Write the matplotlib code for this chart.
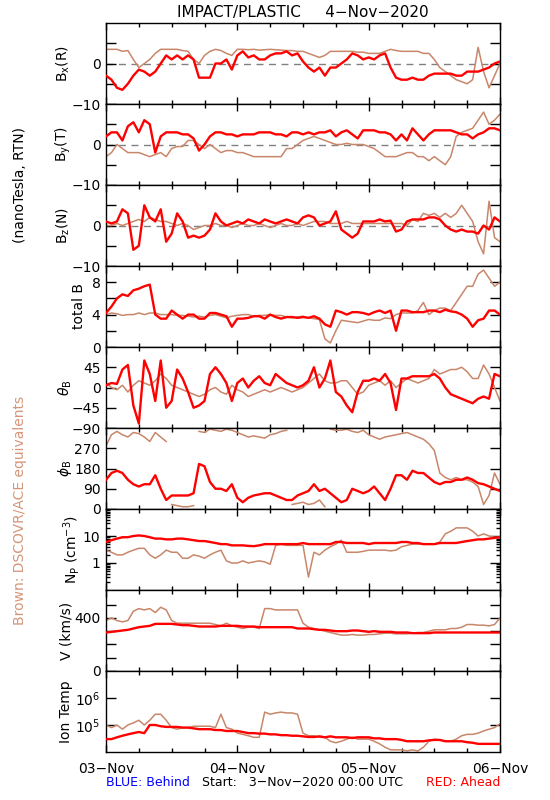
import matplotlib
matplotlib.use("Agg")
import matplotlib.pyplot as plt
import numpy as np

plt.rcParams['font.family'] = ['DejaVu Sans']
plt.rcParams['axes.unicode_minus'] = True

RED = '#ff0000'
BROWN = '#c8866a'

# hourly samples, hours after 3-Nov-2020 00:00 UTC
hours = np.arange(73)

# --- magnetic field, nT (RTN) ---
bx_red = [-3, -4, -6, -6.5, -5, -3, -1.5, -2, -3, -2, 0, 2,
          1, 2, 1, 2, 1, -3.5, -3.5, -3.5, 0, 0, 1, -1.5,
          2, 3, 1.5, 2, 1, 1, 2, 2.5, 2.5, 3, 2, 2.5,
          0.5, -1, -2, -1, -3, -1, -1, 0, 1, 2.5, 2, 1,
          1.5, 1, 2, 2.5, -1, -3.5, -4, -4, -3.5, -4, -4, -3,
          -2.5, -2.5, -2.5, -2.5, -3, -3, -2, -2, -2, -1.5, -1, 0, 0.5]
bx_brown = [3.5, 3.5, 3.5, 3, 3.2, 1, -1, 0, 1, 2.5, 3.5, 3.5,
            3.5, 3.5, 3.2, 3, 1, 0, 2, 3, 3.5, 3.2, 2.5, 2,
            3.5, 3.5, 3.4, 3.5, 3.3, 3.4, 3.5, 3.4, 3.3, 3.2, 3.2, 3,
            3, 2.5, 2, 1.5, 2, 3, 3, 3, 3, 3, 2.8, 2.8,
            2.5, 2.5, 2.5, 3, 3.5, 3.2, 3, 3, 3, 3, 2.5, 2.5,
            1, -1, -2, -3, -4, -4.5, -5, -4, 4, -2, -6, -3, 0]

by_red = [2, 3, 3, 1, 4.5, 5.5, 3, 6, 5, -2, 2, 3,
          3, 3, 2.5, 2.5, 1.5, -1.5, 0, 2, 3, 3, 2.5, 2.5,
          2, 2.5, 2.5, 2.5, 3, 3, 3, 2.5, 2.5, 2, 3, 3,
          2.5, 3, 2.5, 3, 3, 3.5, 2, 3, 3.5, 2.5, 1.5, 3.5,
          3.5, 3.5, 3, 3, 2.5, 1, 2.5, 1, 4, 2.5, 1, 2.5,
          3.5, 3.5, 3.5, 3.5, 3, 2.5, 2.5, 1.5, 2.5, 3, 4, 4, 3.5]
by_brown = [-3, -2, 0, -1, -2, -2, -2, -2.5, -3, -2.5, -2, -3,
            -1, -0.5, -0.5, 1, 1, 0, -1, 0, -1, -2, -1.5, -1.5,
            -2, -2, -2.5, -3, -3, -3, -3, -3, -3, -1, -1, 0,
            1, 1.5, 2, 1.5, 1, 0.5, 0, 0, 0.3, 0, 0, 0,
            -0.5, -1, -2, -3, -3, -3, -2.5, -2, -2, -3, -3, -4,
            -3, -4, -5, -3, 2, 3, 3.5, 4, 6, 8, 5, 6, 7.5]

bz_red = [1, 0.5, 1, 4, 3, -6, -5, 5, 2, 1, 4, -4,
          -2, 3, 1, -3, -2.5, -3, -2.5, -1, 3, 1, 0, 0.5,
          1, 0.5, 1.5, 1, 0.5, 1.5, 1, 0.5, 1, 1.5, 1, 0.5,
          2, 2.5, 2, 0, 0.5, 1, 3.5, -1, -2, -3, -2, 1,
          1, 1, 1.5, 1, 1.2, -1.5, -1, 1, 1.5, 1.5, 1.5, 2,
          2, 1.5, 0, -1, -1.5, -1, -1.5, -1.5, -2, 0, -1, 2, 1]
bz_brown = [0, 0, 0.5, 0, 0.5, 1, 1.5, 1, 2, 1.5, 1, 1,
            0.5, 0, 0.5, 0, -1, -0.5, 0, 0, 0.5, 0, 0, -0.5,
            0, 0.5, 0, 0, 0.5, 0, -0.5, 0, 0.5, 0, 0, 0.5,
            0, 0.5, 1, 1, 1, 0.5, 0.5, 0.5, 1, 0.5, 0.5, 0.5,
            0.5, 0.5, 0.5, 0.5, 0.5, 0.5, 0.5, 0, 1.5, 1, 3, 2.5,
            3, 2, 3, 2, 3, 5, 3, 1, -4, -7, 6, -3, -4]

bt_red = [4.2, 5, 6, 6.5, 6.3, 7, 7.2, 7.5, 7.7, 4, 3.5, 3.5,
          4.5, 4, 3.5, 4, 4, 3.5, 3.5, 4.2, 4.2, 4, 3.8, 2.5,
          3.5, 3.5, 3.6, 3.8, 3.8, 3.5, 4, 3.7, 3.5, 3.7, 3.7, 3.6,
          3.7, 3.6, 3.8, 3.5, 2.8, 2.5, 4.5, 4.3, 4, 4.3, 4.3, 4.2,
          4, 4.3, 4.5, 4.2, 4.5, 2, 4.5, 4.5, 4.3, 4.3, 4.3, 4.5,
          4.5, 4.3, 4.6, 4.4, 4.3, 4, 3.5, 2.5, 3.3, 3.5, 4.5, 4.5, 4]
bt_brown = [4, 4.2, 4.1, 3.9, 4, 4, 4.2, 4, 4.2, 4.2, 4, 4,
            4, 3.9, 3.9, 3.8, 3.7, 3.8, 3.7, 3.9, 4, 3.8, 3.6, 3.8,
            3.9, 4, 4, 3.8, 3.9, 3.9, 4, 3.9, 3.9, 3.7, 3.6, 3.7,
            3.8, 3.6, 3.5, 3.4, 1, 0.5, 2, 3.3, 3.2, 3.1, 3, 3.2,
            3.4, 3.3, 3.3, 3.6, 3.5, 4, 4.2, 4.2, 4.2, 4.5, 5.5, 4,
            4.5, 4.8, 4.8, 4.5, 5.5, 6.5, 7.5, 7.5, 9, 9.5, 8.5, 7.5, 8]

# --- field angles, degrees ---
theta_red = [5, 10, 8, 40, 50, -40, -80, 60, 30, -30, 60, -45,
             -30, 40, 20, -10, -45, -40, -30, 30, 45, 30, 10, -30,
             10, 20, 0, 15, 25, 10, 5, 30, 20, 10, 5, 0,
             5, 15, 45, 0, 20, 60, -10, -20, -40, -55, -10, 15,
             15, 20, 15, 30, 10, -50, 20, 20, 25, 25, 25, 25,
             30, 20, 0, -15, -20, -25, -30, -35, -25, -20, -25, 30, 25]
theta_brown = [10, 0, -5, 5, -10, 5, 15, 10, 5, 15, 30, 20,
               5, 0, -5, -10, -15, -20, -15, -5, 0, -10, -15, 5,
               -5, -10, -20, -15, -10, -5, -10, -5, 0, -5, -10, -5,
               0, 10, 20, 30, 15, 10, 10, 15, 15, 0, -15, -10,
               5, 10, 15, 5, 15, 0, 10, 20, 15, 10, 15, 20,
               40, 30, 35, 40, 40, 45, 35, 20, 20, 50, 30, 0, -30]

phi_red = [130, 160, 170, 160, 130, 110, 100, 110, 110, 150, 90, 40,
           60, 60, 60, 60, 70, 200, 190, 120, 90, 90, 80, 110,
           50, 30, 50, 60, 65, 70, 70, 60, 50, 40, 40, 60,
           70, 80, 110, 80, 90, 70, 50, 30, 40, 90, 80, 70,
           80, 100, 70, 40, 90, 150, 150, 130, 170, 160, 160, 140,
           120, 110, 120, 120, 130, 130, 140, 130, 115, 110, 100, 90, 80]
phi_brown = [280, 330, 345, 330, 320, 340, 335, 320, 300, 340, 320, 300,
             20, 15, 10, 10, 15, 345, 340, 355, 350, 345, 355, 350,
             340, 330, 320, 325, 320, 315, 330, 335, 345, 350, 20, 25,
             30, 20, 25, 40, 10, 355, 350, 350, 355, 345, 340, 350,
             330, 320, 310, 320, 325, 330, 335, 340, 330, 320, 310, 290,
             260, 160, 140, 130, 140, 130, 130, 120, 100, 20, 60, 160, 110]

# --- plasma ---
np_red = [6, 7, 8, 9, 9, 10, 10.5, 10, 9, 8, 8, 7.5,
          7.5, 8, 8, 7.5, 7, 6.5, 6.5, 6, 5.5, 5, 5, 4.5,
          4.5, 4.5, 4.3, 4.2, 4.5, 5, 5, 5, 5, 5, 5, 5,
          5.5, 5, 5, 5, 5, 5, 6, 6, 5.5, 5.5, 5.5, 5.5,
          5, 5.5, 5.5, 5.5, 5.5, 5.5, 6, 6, 5.5, 5.5, 5, 5,
          5, 5.5, 5.5, 5.5, 5.5, 6, 6.5, 7, 7.5, 7.5, 8, 8.5, 9]
np_brown = [3, 2.5, 2, 2, 2.5, 3, 3.5, 3.5, 2, 1.5, 2, 3,
            2.5, 2.5, 1.5, 1.5, 2, 1.8, 1.5, 2, 2.5, 3, 1.2, 1,
            1, 1.2, 1, 1.1, 1.2, 1.1, 0.9, 4.5, 5, 4.5, 4.5, 4.5,
            4.5, 0.3, 2.5, 2, 3, 4, 5, 7, 2.5, 2.5, 2.5, 2.7,
            3, 3, 3, 3, 2.8, 3, 4, 4.5, 5, 5, 5, 5,
            5, 6, 12, 15, 20, 20, 20, 15, 10, 12, 10, 9, 9]

v_red = [290, 295, 300, 305, 310, 320, 330, 335, 340, 355, 355, 355,
         355, 350, 345, 345, 340, 335, 335, 335, 335, 340, 340, 340,
         340, 335, 335, 335, 330, 330, 330, 330, 330, 330, 330, 320,
         320, 320, 315, 310, 310, 305, 300, 300, 300, 305, 305, 300,
         295, 300, 295, 295, 295, 290, 290, 290, 285, 285, 285, 285,
         290, 290, 290, 290, 290, 290, 290, 290, 290, 290, 290, 290, 290]
v_brown = [380, 400, 380, 370, 380, 450, 470, 460, 470, 440, 480, 460,
           380, 360, 360, 360, 360, 360, 360, 360, 350, 340, 360, 340,
           330, 320, 330, 330, 320, 470, 470, 460, 460, 460, 460, 460,
           360, 330, 320, 310, 300, 290, 280, 270, 270, 275, 270, 270,
           275, 275, 280, 285, 285, 280, 280, 280, 285, 290, 290, 300,
           310, 310, 310, 320, 320, 330, 350, 350, 345, 345, 340, 350, 400]

t_red = [3e4, 3e4, 3.5e4, 4e4, 4.5e4, 5e4, 5.5e4, 5e4, 1e5, 1e5, 9e4, 8.5e4,
         8.5e4, 8.5e4, 8e4, 8e4, 7.5e4, 7e4, 7e4, 7e4, 6.5e4, 6.5e4, 6e4, 6e4,
         6e4, 5.5e4, 5e4, 5e4, 4.8e4, 4.8e4, 4.5e4, 4.5e4, 4.2e4, 4.2e4, 4e4, 4e4,
         3.8e4, 3.6e4, 3.6e4, 3.8e4, 3.5e4, 3.8e4, 3.5e4, 3.5e4, 3.5e4, 3.3e4, 3.5e4, 3.5e4,
         3.5e4, 3.2e4, 3.2e4, 3e4, 3e4, 3e4, 2.8e4, 2.5e4, 2.5e4, 2.5e4, 2.5e4, 2.7e4,
         2.8e4, 2.8e4, 2.5e4, 2.5e4, 2.5e4, 2.5e4, 2.3e4, 2.2e4, 2e4, 2e4, 2e4, 2e4, 2e4]
t_brown = [1e5, 8e4, 1e5, 7e4, 1e5, 1.2e5, 1.5e5, 1e5, 1.5e5, 2.5e5, 2.5e5, 1.5e5,
           8e4, 7e4, 8e4, 8e4, 9e4, 9e4, 9e4, 9e4, 8e4, 2.5e5, 8e4, 7e4,
           5e4, 4.5e4, 4e4, 3.5e4, 3.5e4, 3e5, 2.5e5, 2.8e5, 3e5, 2.8e5, 2.8e5, 2.5e5,
           5e4, 4e4, 4e4, 3.5e4, 3.5e4, 2.5e4, 2.2e4, 2.5e4, 3e4, 3.5e4, 3e4, 3e4,
           3e4, 2.5e4, 2e4, 1.5e4, 1.2e4, 1.2e4, 1.2e4, 1.1e4, 1.2e4, 1.1e4, 1.5e4, 2.5e4,
           3e4, 2.8e4, 2.5e4, 2.5e4, 3e4, 4e4, 4.5e4, 4.5e4, 5e4, 6e4, 7e4, 8e4, 1.1e5]

day_labels = ['03\u2212Nov', '04\u2212Nov', '05\u2212Nov', '06\u2212Nov']


def break_wraps(x, y):
    # don't draw a line across the 0/360 wrap
    x = np.asarray(x, float)
    y = np.asarray(y, float)
    idx = np.where(np.abs(np.diff(y)) > 180)[0] + 1
    return np.insert(x, idx, np.nan), np.insert(y, idx, np.nan)


panels = [
    # label, red, brown, ylim, ticks, ticklabels, log, zero line, label x (px)
    (r'B$_{\rm x}$(R)', bx_red, bx_brown, (-10, 10), [-10, -5, 0, 5], ['\u221210', '', '0', ''], False, True, 63),
    (r'B$_{\rm y}$(T)', by_red, by_brown, (-10, 10), [-10, -5, 0, 5], ['\u221210', '', '0', ''], False, True, 63),
    (r'B$_{\rm z}$(N)', bz_red, bz_brown, (-10, 10), [-10, -5, 0, 5], ['\u221210', '', '0', ''], False, True, 63),
    ('total B', bt_red, bt_brown, (0, 10), [0, 2, 4, 6, 8], ['0', '', '4', '', '8'], False, False, 79),
    (r'$\theta_{\rm B}$', theta_red, theta_brown, (-90, 90), [-90, -45, 0, 45],
     ['\u221290', '\u221245', '0', '45'], False, False, 65),
    (r'$\phi_{\rm B}$', phi_red, phi_brown, (0, 360), [0, 90, 180, 270], ['0', '90', '180', '270'], False, False, 65),
    (r'N$_{\rm P}$ (cm$^{-3}$)', np_red, np_brown, (0.1, 100), [1, 10], ['1', '10'], True, False, 72),
    ('V (km/s)', v_red, v_brown, (0, 610), [0, 100, 200, 300, 400, 500],
     ['0', '', '', '', '400', ''], False, False, 66),
    ('Ion Temp', t_red, t_brown, (1e4, 1e7), [1e5, 1e6], ['10$^5$', '10$^6$'], True, False, 66),
]

W, H = 550, 800
fig = plt.figure(figsize=(W / 100, H / 100), dpi=100)
top0, ph = 23, 81

for i, (label, red, brown, ylim, ticks, tlabels, logy, zero, lx) in enumerate(panels):
    top = top0 + i * ph
    ax = fig.add_axes([106 / W, 1 - (top + ph) / H, 394 / W, ph / H])
    if logy:
        ax.set_yscale('log')
    if zero:
        ax.axhline(0, color='#808080', lw=1, ls=(0, (5, 4)), zorder=1)
    if i == 5:
        bx_, by_ = break_wraps(hours, brown)
    else:
        bx_, by_ = hours, brown
    ax.plot(bx_, by_, color=BROWN, lw=1.1, zorder=2)
    ax.plot(hours, red, color=RED, lw=1.7, zorder=3)

    ax.set_xlim(0, 72)
    ax.set_ylim(*ylim)
    ax.set_yticks(ticks)
    ax.set_yticklabels(tlabels)
    if logy:
        ax.yaxis.set_minor_formatter(plt.NullFormatter())
        if i == 8:
            ax.yaxis.set_minor_locator(plt.NullLocator())
    ax.set_xticks([0, 24, 48, 72])
    ax.set_xticks(np.arange(0, 73, 6), minor=True)
    ax.tick_params(axis='both', which='both', direction='in', top=True, right=True,
                   width=1, labelsize=10, pad=4)
    ax.tick_params(axis='y', which='major', length=7)
    ax.tick_params(axis='y', which='minor', length=3)
    ax.tick_params(axis='x', which='major', length=5)
    ax.tick_params(axis='x', which='minor', length=3)
    if i == len(panels) - 1:
        ax.set_xticklabels(day_labels)
        ax.tick_params(axis='x', which='major', pad=7)
    else:
        ax.set_xticklabels([])
    for s in ax.spines.values():
        s.set_linewidth(1)
    fig.text(lx / W, 1 - (top + ph / 2) / H, label, rotation=90, ha='center', va='center', fontsize=10)

fig.text(303 / W, 1 - 12 / H, 'IMPACT/PLASTIC     4\u2212Nov\u22122020', ha='center', va='center', fontsize=11)
fig.text(20 / W, 1 - 185 / H, '(nanoTesla, RTN)', rotation=90, ha='center', va='center', fontsize=10)
fig.text(20 / W, 1 - 510 / H, 'Brown: DSCOVR/ACE equivalents', rotation=90, ha='center', va='center',
         fontsize=10, color='#d4967a')
fig.text(106 / W, 1 - 783 / H, 'BLUE: Behind', ha='left', va='center', fontsize=9, color='#0000ff')
fig.text(303 / W, 1 - 783 / H, 'Start:   3\u2212Nov\u22122020 00:00 UTC', ha='center', va='center', fontsize=9)
fig.text(500 / W, 1 - 783 / H, 'RED: Ahead', ha='right', va='center', fontsize=9, color=RED)

fig.savefig('out.png', dpi=100, facecolor='white')
